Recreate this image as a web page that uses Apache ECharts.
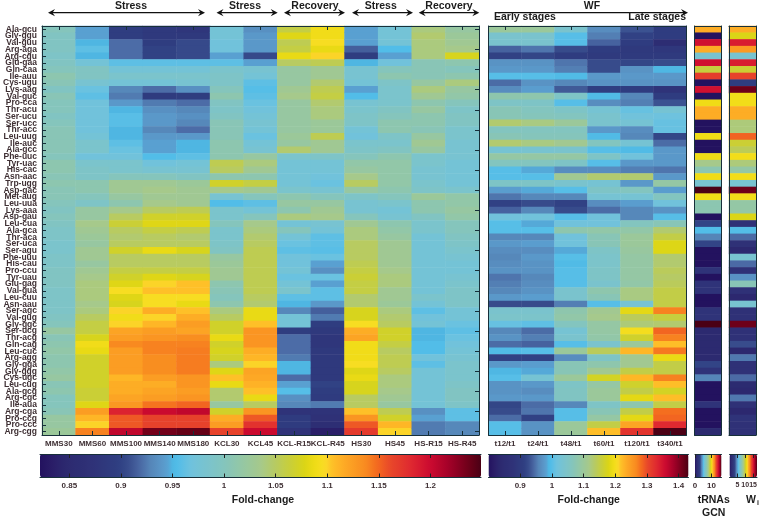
<!DOCTYPE html>
<html><head><meta charset="utf-8">
<style>html,body{margin:0;padding:0;background:#fff}#c{width:760px;height:518px}</style>
<script src="https://cdn.jsdelivr.net/npm/echarts@6/dist/echarts.min.js"></script>
</head><body><div id="c"></div>
<script>
const codons = ['Ala-gcu','Gly-ggu','Val-guu','Arg-aga','Arg-cgu','Glu-gaa','Gln-caa','Ile-auu','Cys-ugu','Lys-aag','Val-guc','Pro-cca','Thr-acu','Ser-ucu','Ser-ucc','Thr-acc','Leu-uug','Ile-auc','Ala-gcc','Phe-uuc','Tyr-uac','His-cac','Asn-aac','Trp-ugg','Asp-gac','Met-aug','Leu-uua','Lys-aaa','Asp-gau','Leu-cua','Ala-gca','Thr-aca','Ser-uca','Ser-agu','Phe-uuu','His-cau','Pro-ccu','Tyr-uau','Glu-gag','Val-gua','Leu-cuu','Asn-aau','Ser-agc','Val-gug','Gly-ggc','Ser-ucg','Thr-acg','Gln-cag','Leu-cuc','Arg-agg','Gly-gga','Gly-ggg','Cys-ugc','Leu-cug','Ala-gcg','Arg-cgc','Ile-aua','Arg-cga','Pro-ccg','Pro-ccc','Arg-cgg'];
const stressCols = ['MMS30','MMS60','MMS100','MMS140','MMS180','KCL30','KCL45','KCL-R15','KCL-R45','HS30','HS45','HS-R15','HS-R45'];
const wfCols = ['t12/t1','t24/t1','t48/t1','t60/t1','t120/t1','t340/t1'];

const mms30 = [1,.995,.995,.995,.99,.995,1,1.01,1.005,.995,1.005,1,1,.995,1,1.005,1.005,1.005,1.005,1,1.01,1.01,1.005,1.01,1.005,1.005,1,.995,1,.995,.99,.99,.985,.985,.99,.99,.995,.995,.995,.99,.99,.99,.99,.995,1,1.02,1.005,1.01,1.015,1.01,1.01,1.015,1.02,1.005,1.01,1,1,1.005,1.02,1.02,1.025];
const mms60 = [.945,.945,.95,.96,.95,.975,.995,.995,.98,.965,.96,.97,.97,.97,.97,.97,.975,.985,.985,.97,.985,.99,.99,1.01,1.01,1,.99,1.02,1.02,1.035,1.03,1.025,1.02,1.03,1.03,1.02,1.03,1.035,1.04,1.04,1.04,1.035,1.04,1.05,1.06,1.06,1.075,1.09,1.085,1.07,1.07,1.07,1.07,1.07,1.065,1.065,1.08,1.125,1.11,1.1,1.14];
const mms100 = [.895,.895,.92,.92,.92,.96,.975,.985,.975,.93,.925,.94,.95,.958,.958,.95,.95,.96,.965,.97,.985,.985,1,1.03,1.03,1.02,1.01,1.035,1.05,1.065,1.05,1.045,1.05,1.07,1.05,1.05,1.06,1.07,1.08,1.095,1.08,1.075,1.1,1.09,1.1,1.12,1.125,1.137,1.125,1.125,1.125,1.125,1.11,1.115,1.115,1.12,1.128,1.185,1.155,1.155,1.205];
const mms140 = [.885,.885,.895,.9,.9,.96,.975,.985,.975,.92,.89,.925,.935,.94,.94,.93,.94,.945,.945,.955,.97,.98,1,1.03,1.035,1.03,1.035,1.05,1.07,1.08,1.06,1.05,1.05,1.085,1.05,1.05,1.06,1.08,1.1,1.105,1.095,1.095,1.115,1.1,1.11,1.125,1.13,1.14,1.14,1.135,1.135,1.135,1.125,1.115,1.12,1.125,1.145,1.2,1.165,1.165,1.235];
const mms180 = [.88,.885,.905,.905,.905,.96,.975,.985,.98,.935,.895,.92,.93,.935,.93,.92,.94,.95,.95,.96,.975,.98,.995,1.025,1.03,1.03,1.03,1.055,1.07,1.08,1.055,1.045,1.05,1.075,1.05,1.05,1.06,1.075,1.105,1.105,1.095,1.085,1.105,1.115,1.125,1.12,1.135,1.14,1.142,1.142,1.142,1.142,1.13,1.13,1.125,1.13,1.15,1.205,1.165,1.165,1.24];
const kcl30 = [.975,.975,.97,.97,.945,.96,.985,.99,.99,1,1.01,.995,.99,.995,1.005,1.005,1.005,1.01,1.01,1.01,1.055,1.05,1.01,1.07,1.035,.98,.955,.985,.985,1,.985,.985,.99,.995,1.02,1.025,1.03,1.03,1.01,1.005,1,1.01,1.04,1.05,1.07,1.07,1.085,1.07,1.075,1.07,1.04,1.08,1.105,1.085,1.045,1.045,1.02,1.07,1.115,1.125,1.165];
const kcl45 = [.935,.94,.94,.94,.905,.945,.98,.975,.96,.957,.96,.965,.97,.975,.98,.975,.965,.975,.98,1.02,1.04,1.03,1.01,1.06,1.03,1,.96,.975,1,1.035,1.04,1.045,1.05,1.055,1.055,1.055,1.055,1.055,1.055,1.055,1.05,1.045,1.085,1.085,1.105,1.13,1.13,1.13,1.115,1.11,1.1,1.12,1.118,1.112,1.105,1.085,1.05,1.13,1.155,1.175,1.2];
const kclR15 = [1.06,1.08,1.055,1.06,1.085,1.05,1.02,1.02,1.02,1.03,1.035,1.02,1.02,1.02,1.02,1.02,1.025,1.02,1.045,.985,.975,.975,.975,.975,.985,1.01,1.02,1.01,1.04,.975,1,.975,.965,.96,.97,.97,.975,.965,.975,.985,.96,.95,.93,.975,.975,.895,.92,.92,.92,.925,.95,.95,.92,.945,.957,.935,.93,.875,.89,.89,.875];
const kclR45 = [1.09,1.09,1.095,1.085,1.1,1.055,1.03,1.03,1.045,1.055,1.06,1.045,1.04,1.04,1.025,1.025,1.055,1.03,1.03,.99,.975,.975,.97,.965,.98,1,1.02,1.03,1.035,.98,.975,.96,.96,.958,.965,.945,.935,.965,.945,.96,.96,.94,.915,.925,.895,.885,.88,.88,.885,.885,.885,.885,.885,.9,.895,.89,.925,.875,.87,.86,.835];
const hs30 = [.945,.945,.945,.915,.895,.95,.98,.98,.975,.945,.955,.98,.985,.99,.99,.975,.97,.985,.99,1,1.015,1.02,1.035,1.05,1.02,.99,.98,.98,1,1.03,1.04,1.04,1.05,1.05,1.05,1.055,1.06,1.065,1.06,1.06,1.045,1.045,1.075,1.075,1.095,1.115,1.12,1.09,1.09,1.09,1.095,1.08,1.085,1.075,1.075,1.05,1.05,1.105,1.13,1.155,1.17];
const hs45 = [.975,.975,.975,.955,.945,.97,1,1.01,.99,.985,.985,.985,.995,1,1.01,1.01,.99,.985,.995,1.01,1.015,1.015,1.015,1.015,1.01,1,.985,.975,.98,1.01,1.015,1.02,1.03,1.03,1.03,1.03,1.035,1.04,1.04,1.03,1.03,1.025,1.04,1.045,1.05,1.07,1.07,1.06,1.05,1.055,1.055,1.05,1.04,1.04,1.035,1.03,1.02,1.055,1.07,1.11,1.1];
const hsR15 = [1.04,1.045,1.04,1.04,1.04,1.005,1.005,1.005,1.02,1.04,1.03,1.01,1.02,1.01,1.01,1.005,1.02,1.03,1.02,.985,.985,.98,.98,.985,.99,1.025,1.01,1.01,.995,.985,.985,.975,.975,.975,.975,.975,.975,.975,.975,.975,.985,.975,.96,.97,.975,.95,.95,.955,.955,.97,.96,.975,.975,.975,.975,.975,.975,.935,.945,.925,.925];
const hsR45 = [1.02,1.025,1.03,1.035,1.075,1.01,1,1.01,1.04,1.02,1.015,1,.99,.995,.995,.985,.985,.98,.98,.98,.975,.975,.975,.975,.985,1.015,1.015,1.02,1.015,1,1,.995,.99,.985,.98,.975,.975,.98,.985,.99,.99,.99,.975,.975,.965,.96,.965,.97,.975,.98,.985,.985,.985,.99,.995,.995,.99,.96,.96,.93,.93];

const t12 = [1.1,1.04,1.04,.94,.915,.97,.975,1,.945,.965,1.08,1.05,1.07,1.07,1.13,1.06,1.07,1.13,1.03,1.09,1.06,1,1,1.05,.98,.95,.915,.94,1.02,1,1,.96,.975,.965,.96,.965,.97,.95,.955,.96,.975,.925,1.04,1.045,1.01,.96,.97,.945,.995,.915,.975,.99,1,.97,.97,.975,.92,.925,.945,1,1];
const t24 = [1.1,1.04,1.04,.95,.92,.97,.975,1,.97,.98,1.08,1.05,1.06,1.065,1.12,1.06,1.065,1.12,1.035,1.09,1.06,.985,1,1.05,.985,.96,.925,.96,1.02,.985,1,.96,.98,.965,.975,.97,.97,.96,.965,.97,.98,.925,1.04,1.045,1.005,.945,.955,.94,1,.915,.98,.985,1.03,.975,.965,.975,.945,.95,.915,.97,.97];
const t48 = [1.04,1,1,.925,.905,.95,.955,.995,.96,.935,1.05,1,1.05,1.06,1.1,1.06,1.065,1.11,1.04,1.09,1.05,.965,1.11,1.04,1,.96,.915,.925,1,1.02,1.08,1.02,1.02,.985,1,.995,1,1,1,1.04,1.04,.955,1.08,1.085,1.06,1.03,1.04,1,1.1,.965,1.07,1.07,1.1,1.05,1.055,1.055,.96,1,1,1.1,1.1];
const t60 = [.965,.955,.94,.905,.9,.925,.925,.975,.97,.91,.995,.965,1.03,1.04,1.04,.975,.995,1.06,1,1.05,1,.965,1.13,1.03,1.05,1.03,.965,.945,1.02,1.02,1.085,1.07,1.07,1.05,1.045,1.045,1.05,1.05,1.04,1.08,1.07,1,1.11,1.115,1.09,1.09,1.085,1.04,1.14,1.05,1.08,1.11,1.17,1.09,1.1,1.1,1.05,1.07,1.09,1.15,1.22];
const t120 = [.93,.915,.905,.895,.9,.92,.97,.975,.97,.905,.96,.955,1.01,1.02,1.03,.965,.96,1.03,.995,1.02,.975,.955,1.13,.975,1.06,1.03,.98,.96,.96,1.06,1.085,1.1,1.1,1.095,1.09,1.09,1.09,1.09,1.085,1.12,1.12,1.03,1.185,1.14,1.125,1.2,1.165,1.1,1.225,1.11,1.11,1.15,1.225,1.165,1.15,1.185,1.08,1.15,1.185,1.24,1.32];
const t340 = [.905,.905,.85,.89,.9,.925,.99,.975,.97,.88,.905,.93,1.03,1.015,1.01,1.01,.92,.945,.975,.975,.975,.95,.975,1.09,.98,1.06,1.02,.97,1,1.07,1.13,1.15,1.18,1.18,1.13,1.13,1.14,1.135,1.14,1.15,1.15,1.15,1.27,1.155,1.13,1.285,1.27,1.22,1.275,1.19,1.15,1.15,1.27,1.22,1.17,1.22,1.15,1.28,1.285,1.33,1.43];

const gcn = [11,0,14,11,6,14,9,13,0,14,0,10,11,11,0,0,10,0,0,10,8,7,10,6,16,10,7,7,0,3,5,4,3,0,0,0,2,0,2,2,0,0,2,2,16,1,1,1,1,1,3,2,4,0,0,0,2,0,0,0,1];
const wi = [12,10.5,15,12.5,6.5,15,10,14,3,17,11,11,12,12,9,9,13.5,10,9.5,11,9,8,11,6.5,17,11,8,8,10.5,2,5.5,4,2,1,6.5,4,2,4.7,7.5,2,1,6.5,2,2,17,2,2,3.5,1,4.2,2,2,4,1.2,1,4.2,2,1,2.2,2,2];

const stressData = [mms30,mms60,mms100,mms140,mms180,kcl30,kcl45,kclR15,kclR45,hs30,hs45,hsR15,hsR45];
const wfData = [t12,t24,t48,t60,t120,t340];

// colormap stops sampled along the reference colour bar: [position 0..1, colour]
const stops = [[0,'#23125f'],[.03,'#2a1e68'],[.06,'#2c2a70'],[.12,'#2f3278'],[.18,'#2f3f82'],[.205,'#3a4f8e'],[.227,'#4a68a4'],[.25,'#5585b8'],[.272,'#5a95c6'],[.29,'#5aa0d0'],[.299,'#4fb5e2'],[.313,'#52bde8'],[.34,'#6fc2de'],[.417,'#84c5bd'],[.499,'#a5c98c'],[.535,'#b8cb60'],[.567,'#c8cf38'],[.601,'#dcd515'],[.624,'#f0dc15'],[.646,'#fadf28'],[.658,'#fec428'],[.692,'#fda825'],[.737,'#f88c20'],[.766,'#f4681f'],[.794,'#e8482a'],[.839,'#e02a30'],[.884,'#cc0a30'],[.93,'#a00028'],[.975,'#6a0018'],[1,'#4a0015']];
function hex(c){return [1,3,5].map(i=>parseInt(c.substr(i,2),16));}
const palette=[];
for(let i=0;i<=80;i++){const p=i/80;let k=0;while(k<stops.length-2&&stops[k+1][0]<p)k++;
  const a=stops[k],b=stops[k+1],t=(p-a[0])/(b[0]-a[0]),ca=hex(a[1]),cb=hex(b[1]);
  palette.push('rgb('+ca.map((v,j)=>Math.round(v+(cb[j]-v)*t)).join(',')+')');}

const FONT='"Liberation Sans",Arial,sans-serif';
const LBL='#3f3034', LINE='#17303a';
const scales={stress:[.8216,1.249],wf:[.8,1.431],gcn:[0,16],wi:[0,17.5]};

const grids=[],xAxes=[],yAxes=[],series=[],visualMaps=[];
function heat(left,width,cols,labels,range,opt){
  const gi=grids.length;
  grids.push({left,top:26,width,height:409,containLabel:false});
  const tick={show:!!labels,inside:true,length:4,alignWithLabel:true,lineStyle:{color:LINE,width:1}};
  const line={show:true,onZero:false,lineStyle:{color:LINE,width:1}};
  const xi=xAxes.length;
  const names=labels||cols.map((_,i)=>String(i));
  xAxes.push({gridIndex:gi,type:'category',data:names,position:'bottom',z:5,axisLine:line,axisTick:tick,
    axisLabel:{show:!!labels,interval:0,margin:5,fontFamily:FONT,fontWeight:'bold',fontSize:8,color:LBL}});
  xAxes.push({gridIndex:gi,type:'category',data:names,position:'top',z:5,axisLine:line,axisTick:tick,axisLabel:{show:false}});
  const yi=yAxes.length;
  const yt={show:!!opt.yTicks,inside:true,length:4,alignWithLabel:true,lineStyle:{color:LINE,width:1}};
  yAxes.push({gridIndex:gi,type:'category',data:codons,inverse:true,position:'left',z:5,axisLine:line,axisTick:yt,
    axisLabel:{show:!!opt.yLabels,interval:0,margin:5,fontFamily:FONT,fontWeight:'bold',fontSize:8.5,lineHeight:7,color:LBL}});
  yAxes.push({gridIndex:gi,type:'category',data:codons,inverse:true,position:'right',z:5,axisLine:line,axisTick:yt,axisLabel:{show:false}});
  const data=[];
  cols.forEach((c,i)=>c.forEach((v,r)=>data.push([i,r,v])));
  const si=series.length;
  series.push({type:'heatmap',xAxisIndex:xi,yAxisIndex:yi,data,silent:true,progressive:0,animation:false,itemStyle:{borderWidth:0},emphasis:{disabled:true}});
  return si;
}
function bar(si,left,width,range,ticks,size){
  visualMaps.push({type:'continuous',seriesIndex:si,dimension:2,min:range[0],max:range[1],orient:'horizontal',left,top:454,
    itemWidth:23.5,itemHeight:width,padding:0,text:null,showLabel:false,calculable:false,hoverLink:false,realtime:false,
    inRange:{color:palette},z:3});
  const gi=grids.length;
  grids.push({left,top:454,width,height:23.5});
  const t={show:true,inside:true,length:4,customValues:ticks,lineStyle:{color:'#222',width:1}};
  const l={show:true,onZero:false,lineStyle:{color:LINE,width:1}};
  xAxes.push({gridIndex:gi,type:'value',min:range[0],max:range[1],position:'bottom',z:6,splitLine:{show:false},axisLine:l,axisTick:t,
    axisLabel:{show:true,customValues:ticks,margin:4,showMinLabel:true,showMaxLabel:true,fontFamily:FONT,fontWeight:'bold',fontSize:size||8,color:LBL,hideOverlap:false}});
  xAxes.push({gridIndex:gi,type:'value',min:range[0],max:range[1],position:'top',z:6,splitLine:{show:false},axisLine:l,axisTick:t,axisLabel:{show:false}});
  yAxes.push({gridIndex:gi,type:'value',show:false,min:0,max:1,splitLine:{show:false}});
}

const s0=heat(39.5,439.5,stressData,stressCols,scales.stress,{yTicks:true,yLabels:true});
const s1=heat(488.5,198,wfData,wfCols,scales.wf,{});
const s2=heat(694.5,26.5,[gcn],null,scales.gcn,{});
const s3=heat(729,27,[wi],null,scales.wi,{});
bar(s0,40,441,scales.stress,[.85,.9,.95,1,1.05,1.1,1.15,1.2]);
bar(s1,488.5,200,scales.wf,[.9,1,1.1,1.2,1.3,1.4]);
bar(s2,695,26.5,scales.gcn,[0,10]);
bar(s3,729.5,27.5,scales.wi,[5,10,15],7);

const graphics=[];
function txt(text,x,y,size,align,fill){graphics.push({type:'text',silent:true,style:{text,x,y,align:align||'center',verticalAlign:'middle',font:'bold '+size+'px '+FONT,fill:fill||'#1c1c1c'}});}
function arrow(x1,x2,y,both){
  graphics.push({type:'line',silent:true,shape:{x1:x1+3,y1:y,x2:x2-3,y2:y},style:{stroke:'#111',lineWidth:1.2}});
  const head=(tip,d)=>graphics.push({type:'polygon',silent:true,shape:{points:[[tip,y],[tip+d*7,y-3.6],[tip+d*4.5,y],[tip+d*7,y+3.6]]},style:{fill:'#111'}});
  head(x2,-1); if(both) head(x1,1);
}
arrow(48,205,12.7,true);txt('Stress',131,6,10.5);
arrow(216.5,277.7,12.7,true);txt('Stress',245,6,10.5);
arrow(284,345,12.7,true);txt('Recovery',315,6,10.5);
arrow(352,413,12.7,true);txt('Stress',380.7,6,10.5);
arrow(418.7,479.3,12.7,true);txt('Recovery',449,6,10.5);
arrow(495,688,12.7,false);txt('WF',592,6,10.5);
txt('Early stages',494,17.3,10.5,'left');txt('Late stages',686,17.3,10.5,'right');
txt('Fold-change',263,500,10.5);txt('Fold-change',588.7,500,10.5);
txt('tRNAs',713.7,500,10.5);txt('GCN',713.7,512.7,10.5);
txt('W',751,500,10.5);txt('i',759,503,7,'right');

const chart=echarts.init(document.getElementById('c'),null,{renderer:'canvas'});
chart.setOption({animation:false,backgroundColor:'#fff',tooltip:{show:false},grid:grids,xAxis:xAxes,yAxis:yAxes,visualMap:visualMaps,series,graphic:{elements:graphics}});
</script></body></html>
